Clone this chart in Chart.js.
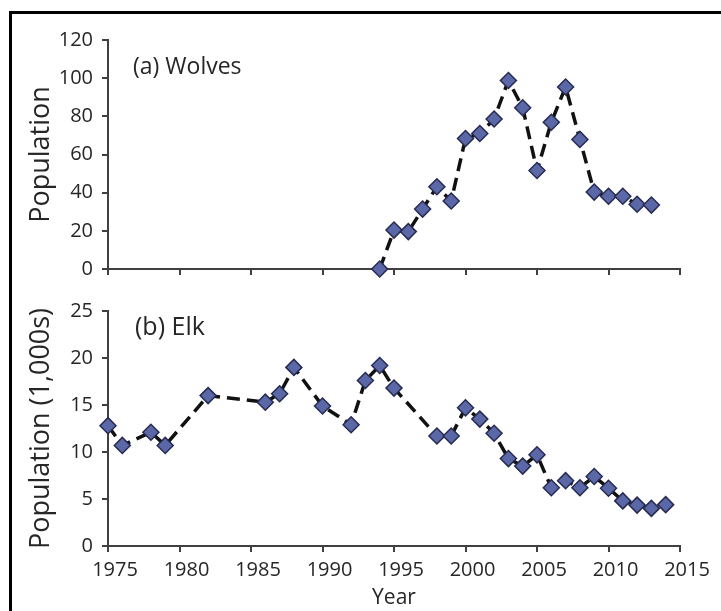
<!DOCTYPE html>
<html lang="en">
    <head>
        <meta charset="UTF-8">
        <title>Wolves and Elk</title>
        <script src="https://cdn.jsdelivr.net/npm/chart.js"></script>
        <style>
            body { margin: 0; background: #fff; }
            .frame {
                position: absolute; left: 9px; top: 11px;
                width: 760px; height: 700px;
                border-top: 3px solid #000; border-left: 3px solid #000;
            }
            .panel { position: absolute; left: 0; }
            #top { top: 0; }
            #bottom { top: 290px; }
        </style>
    </head>
    <body>
        <div class="frame"></div>
        <div class="panel" id="top"><canvas id="wolfChart" width="721" height="290"></canvas></div>
        <div class="panel" id="bottom"><canvas id="elkChart" width="721" height="321"></canvas></div>
        <script>
            const wolfYears = [1994, 1995, 1996, 1997, 1998, 1999, 2000, 2001, 2002, 2003,
                               2004, 2005, 2006, 2007, 2008, 2009, 2010, 2011, 2012, 2013];
            const wolfCounts = [0, 20.4, 19.6, 31.4, 43.1, 35.6, 68.4, 71, 78.6, 98.8,
                                84.5, 51.6, 76.9, 95.4, 67.9, 40.3, 38.1, 38.1, 33.9, 33.5];

            const elkYears = [1975, 1976, 1978, 1979, 1982, 1986, 1987, 1988, 1990, 1992,
                              1993, 1994, 1995, 1998, 1999, 2000, 2001, 2002, 2003, 2004,
                              2005, 2006, 2007, 2008, 2009, 2010, 2011, 2012, 2013, 2014];
            const elkCounts = [12.8, 10.7, 12.1, 10.7, 16.0, 15.3, 16.2, 19.0, 14.9, 12.9,
                               17.6, 19.2, 16.8, 11.7, 11.7, 14.7, 13.5, 12.0, 9.3, 8.5,
                               9.7, 6.2, 6.95, 6.2, 7.4, 6.15, 4.8, 4.35, 4.0, 4.4];

            const yearMin = 1975, yearMax = 2015, yearStep = 5;

            const font = 'Open Sans';
            const textColor = '#262626';
            const axisColor = '#404040';

            const panelLabel = {
                id: 'panelLabel',
                afterDraw(chart, args, opts) {
                    const ctx = chart.ctx;
                    ctx.save();
                    ctx.font = opts.size + 'px "' + font + '"';
                    ctx.fillStyle = textColor;
                    ctx.textBaseline = 'middle';
                    ctx.fillText(opts.text, chart.chartArea.left + opts.dx, chart.chartArea.top + opts.dy);
                    ctx.restore();
                }
            };

            function series(xs, ys) {
                return {
                    data: xs.map((x, i) => ({x: x, y: ys[i]})),
                    borderColor: '#111',
                    borderWidth: 3.5,
                    borderDash: [13, 7],
                    pointStyle: 'rectRot',
                    pointRadius: 8,
                    pointBackgroundColor: '#5b68a8',
                    pointBorderColor: '#272b50',
                    pointBorderWidth: 1.5,
                    tension: 0,
                    clip: false
                };
            }

            function makeChart(id, xs, ys, opt) {
                return new Chart(document.getElementById(id), {
                    type: 'line',
                    data: { datasets: [series(xs, ys)] },
                    plugins: [panelLabel],
                    options: {
                        responsive: false,
                        animation: false,
                        layout: { padding: { top: opt.padTop, right: 41, bottom: 0, left: 0 } },
                        plugins: {
                            legend: { display: false },
                            tooltip: { enabled: false },
                            panelLabel: opt.label
                        },
                        scales: {
                            x: {
                                type: 'linear',
                                min: yearMin,
                                max: yearMax,
                                afterFit: s => { s.height = opt.xHeight; },
                                border: { color: axisColor, width: 2 },
                                grid: { drawOnChartArea: false, drawTicks: true, tickLength: 6, color: axisColor, lineWidth: 2 },
                                ticks: {
                                    display: opt.showYears,
                                    stepSize: yearStep,
                                    padding: 6,
                                    labelOffset: 7,
                                    color: textColor,
                                    font: { family: font, size: 20 },
                                    maxRotation: 0,
                                    callback: v => String(v)
                                },
                                title: {
                                    display: opt.showYears,
                                    text: 'Year',
                                    color: textColor,
                                    font: { family: font, size: 21 },
                                    padding: { top: 0, bottom: 0 }
                                }
                            },
                            y: {
                                min: 0,
                                max: opt.yMax,
                                afterFit: s => { s.width = 108; },
                                border: { color: axisColor, width: 2 },
                                grid: { drawOnChartArea: false, drawTicks: true, tickLength: 6, color: axisColor, lineWidth: 2 },
                                ticks: {
                                    stepSize: opt.yStep,
                                    padding: 9,
                                    color: textColor,
                                    font: { family: font, size: 20 }
                                },
                                title: {
                                    display: true,
                                    text: opt.yTitle,
                                    color: textColor,
                                    font: { family: font, size: 27 },
                                    padding: { top: 25, bottom: 0 }
                                }
                            }
                        }
                    }
                });
            }

            makeChart('wolfChart', wolfYears, wolfCounts, {
                padTop: 40, xHeight: 13, showYears: false,
                yMax: 120, yStep: 20, yTitle: 'Population',
                label: { text: '(a) Wolves', size: 23, dx: 25, dy: 27 }
            });

            makeChart('elkChart', elkYears, elkCounts, {
                padTop: 15, xHeight: 65, showYears: true,
                yMax: 25, yStep: 5, yTitle: 'Population (1,000s)',
                label: { text: '(b) Elk', size: 25, dx: 27, dy: 17 }
            });
        </script>
    </body>
</html>
